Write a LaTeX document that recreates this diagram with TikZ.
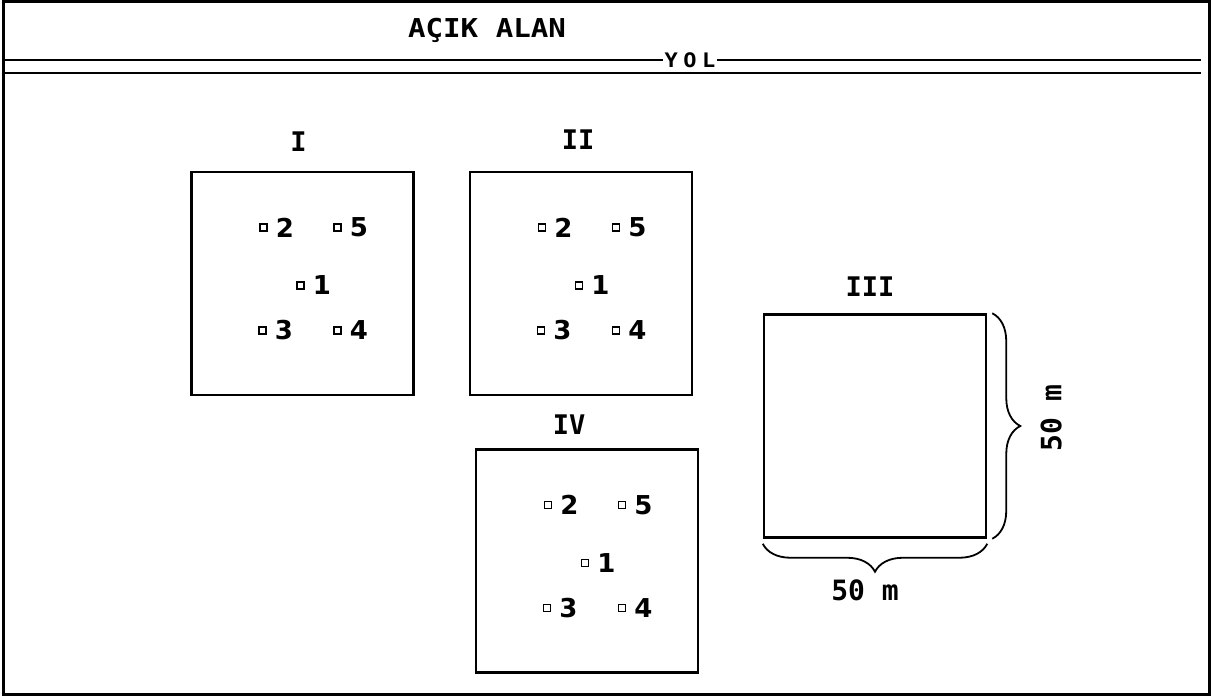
\documentclass[tikz,border=0pt]{standalone}
\usepackage{fontspec}
\setmonofont{DejaVu Sans Mono}
\setsansfont{DejaVu Sans}
\usetikzlibrary{positioning, decorations.pathreplacing}

\begin{document}
\begin{tikzpicture}[x=1pt, y=-1pt,
  plot/.style={draw, line width=2.5pt, minimum width=222pt, minimum height=223pt},
  stn/.style={draw, line width=1.4pt, minimum size=7pt, inner sep=0pt},
  num/.style={font=\sffamily\bfseries\fontsize{26}{26}\selectfont, inner sep=0pt, xshift=8pt},
  lab/.style={font=\ttfamily\bfseries\fontsize{27}{27}\selectfont, inner sep=0pt},
  dim/.style={font=\ttfamily\bfseries\fontsize{28}{28}\selectfont, inner sep=0pt},
  brc/.style={decorate, decoration={brace, amplitude=28pt}, line width=1.8pt}]
\useasboundingbox (0,0) rectangle (1221,698);
\draw[line width=3pt] (3,2) rectangle (1209,694);
\node[font=\ttfamily\bfseries\fontsize{26}{26}\selectfont, anchor=base] (open) at (487,38) {\scalebox{1.12}[1]{AÇIK ALAN}};
\coordinate (rw) at (4,60);
\coordinate (re) at (1201,60);
\coordinate (rw2) at (4,73);
\coordinate (re2) at (1201,73);
\node[font=\ttfamily\bfseries\fontsize{20}{20}\selectfont, inner sep=1pt] (yol) at (690,60) {\scalebox{1.1}[1]{Y\kern5pt O\kern5pt L}};
\draw[line width=2.5pt] (rw) -- (yol) -- (re);
\draw[line width=2.5pt] (rw2) -- (re2);
\node[plot] (p1) at (302.5,283.5) {};
\node[plot] (p2) at (581,283.5) {};
\node[plot] (p3) at (875,426) {};
\node[plot] (p4) at (587,561) {};
\node[lab, above=19pt of p1, xshift=-4pt] (t1) {I};
\node[lab, above=21pt of p2, xshift=-3pt] (t2) {II};
\node[lab, above=17pt of p3, xshift=-5pt] (t3) {III};
\node[lab, above=14pt of p4, xshift=-18pt] (t4) {IV};
\foreach \b in {p1,p2,p4}
  \foreach \n/\dx/\dy in {2/-39/-56, 5/35/-56, 1/-2/2, 3/-40/47, 4/35/47}
    \node[stn, label={[num]right:\n}] (\b-\n) at ([shift={(\dx,\dy)}]\b.center) {};
\draw[brc] ([xshift=5pt]p3.north east) -- ([xshift=5pt]p3.south east);
\node[dim, rotate=90] (mv) at ([xshift=64pt, yshift=8pt]p3.east) {50 m};
\draw[brc] ([yshift=-5pt]p3.south east) -- ([yshift=-5pt]p3.south west);
\node[dim] (mh) at ([xshift=-10pt, yshift=-52pt]p3.south) {50 m};
\end{tikzpicture}
\end{document}
